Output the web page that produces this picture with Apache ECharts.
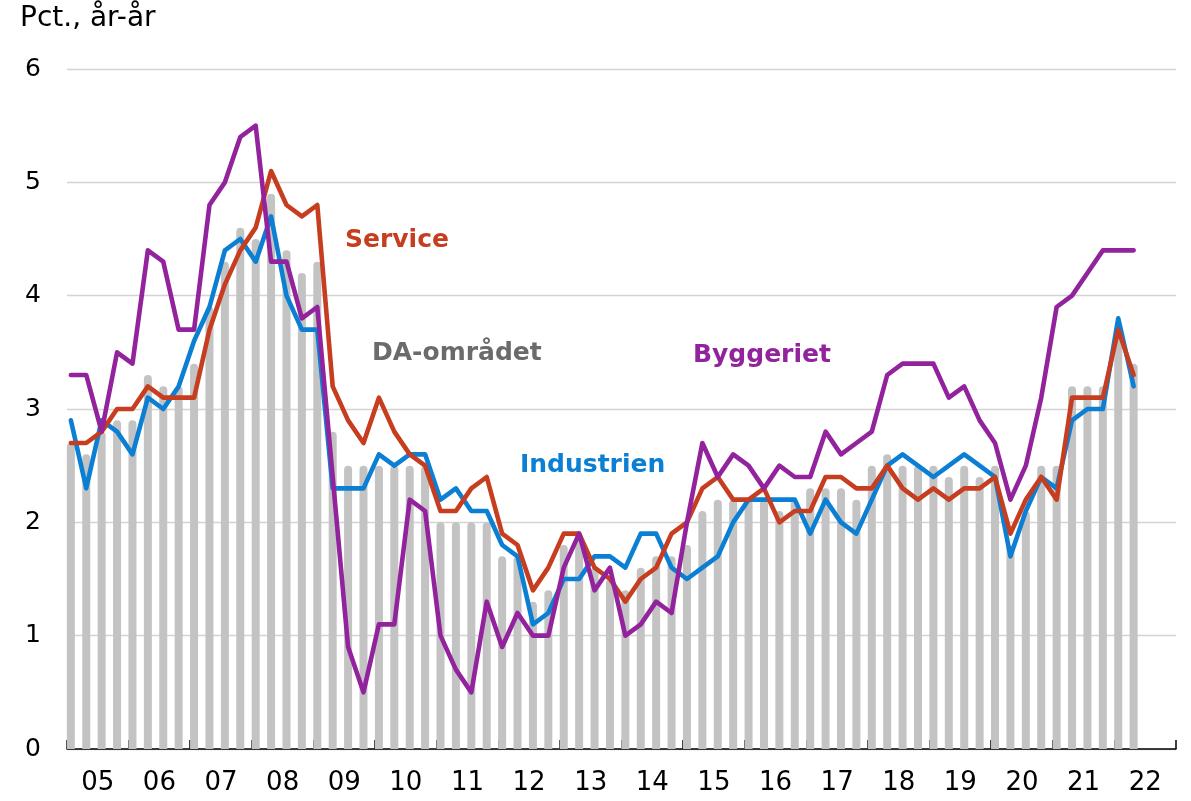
<!DOCTYPE html>
<html>
<head>
<meta charset="utf-8">
<script src="https://cdn.jsdelivr.net/npm/echarts@6/dist/echarts.min.js"></script>
<style>
html,body{margin:0;padding:0;background:#fff;}
#chart{width:1191px;height:801px;}
</style>
</head>
<body>
<div id="chart"></div>
<script>
// Year tick labels (x axis), one per year 2005-2022
const years = ['05','06','07','08','09','10','11','12','13','14','15','16','17','18','19','20','21','22'];
// Quarterly observations 2005K1 .. 2022K2 (70 quarters)
const quarters = [];
for (let y = 2005; y <= 2022; y++) for (let q = 1; q <= 4; q++) quarters.push(y + 'K' + q);
quarters.length = 70;

const daOmraadet = [
  2.7, 2.6, 2.8, 2.9, 2.9, 3.3, 3.2, 3.2, 3.4, 3.9,
  4.3, 4.6, 4.5, 4.9, 4.4, 4.2, 4.3, 2.8, 2.5, 2.5,
  2.5, 2.5, 2.5, 2.5, 2.0, 2.0, 2.0, 2.0, 1.7, 1.7,
  1.3, 1.4, 1.8, 1.9, 1.6, 1.5, 1.4, 1.6, 1.7, 1.7,
  1.8, 2.1, 2.2, 2.2, 2.2, 2.2, 2.1, 2.2, 2.3, 2.3,
  2.3, 2.2, 2.5, 2.6, 2.5, 2.5, 2.5, 2.4, 2.5, 2.4,
  2.5, 1.8, 2.1, 2.5, 2.5, 3.2, 3.2, 3.2, 3.7, 3.4
];
const industrien = [
  2.9, 2.3, 2.9, 2.8, 2.6, 3.1, 3.0, 3.2, 3.6, 3.9,
  4.4, 4.5, 4.3, 4.7, 4.0, 3.7, 3.7, 2.3, 2.3, 2.3,
  2.6, 2.5, 2.6, 2.6, 2.2, 2.3, 2.1, 2.1, 1.8, 1.7,
  1.1, 1.2, 1.5, 1.5, 1.7, 1.7, 1.6, 1.9, 1.9, 1.6,
  1.5, 1.6, 1.7, 2.0, 2.2, 2.2, 2.2, 2.2, 1.9, 2.2,
  2.0, 1.9, 2.2, 2.5, 2.6, 2.5, 2.4, 2.5, 2.6, 2.5,
  2.4, 1.7, 2.1, 2.4, 2.3, 2.9, 3.0, 3.0, 3.8, 3.2
];
const service = [
  2.7, 2.7, 2.8, 3.0, 3.0, 3.2, 3.1, 3.1, 3.1, 3.7,
  4.1, 4.4, 4.6, 5.1, 4.8, 4.7, 4.8, 3.2, 2.9, 2.7,
  3.1, 2.8, 2.6, 2.5, 2.1, 2.1, 2.3, 2.4, 1.9, 1.8,
  1.4, 1.6, 1.9, 1.9, 1.6, 1.5, 1.3, 1.5, 1.6, 1.9,
  2.0, 2.3, 2.4, 2.2, 2.2, 2.3, 2.0, 2.1, 2.1, 2.4,
  2.4, 2.3, 2.3, 2.5, 2.3, 2.2, 2.3, 2.2, 2.3, 2.3,
  2.4, 1.9, 2.2, 2.4, 2.2, 3.1, 3.1, 3.1, 3.7, 3.3
];
const byggeriet = [
  3.3, 3.3, 2.8, 3.5, 3.4, 4.4, 4.3, 3.7, 3.7, 4.8,
  5.0, 5.4, 5.5, 4.3, 4.3, 3.8, 3.9, 2.4, 0.9, 0.5,
  1.1, 1.1, 2.2, 2.1, 1.0, 0.7, 0.5, 1.3, 0.9, 1.2,
  1.0, 1.0, 1.6, 1.9, 1.4, 1.6, 1.0, 1.1, 1.3, 1.2,
  2.0, 2.7, 2.4, 2.6, 2.5, 2.3, 2.5, 2.4, 2.4, 2.8,
  2.6, 2.7, 2.8, 3.3, 3.4, 3.4, 3.4, 3.1, 3.2, 2.9,
  2.7, 2.2, 2.5, 3.1, 3.9, 4.0, 4.2, 4.4, 4.4, 4.4
];
const yTicks = [0, 1, 2, 3, 4, 5, 6];

const FONT = '"DejaVu Sans", "Noto Sans", sans-serif';
const C_BAR = '#C3C3C3', C_IND = '#0A7FD3', C_SER = '#C63D1F', C_BYG = '#92239C', C_DA = '#6B6B6B';

// position of a quarter on the hidden quarterly value axis (quarters from start of 2005)
const qPos = i => i + 0.25;
const toPts = arr => arr.map((v, i) => [qPos(i), v]);

const chart = echarts.init(document.getElementById('chart'));
chart.setOption({
  animation: false,
  backgroundColor: '#fff',
  title: {
    text: 'Pct., år-år', left: 20, top: 5, padding: 0,
    textStyle: { fontFamily: FONT, fontSize: 28, fontWeight: 'normal', color: '#000' }
  },
  grid: { left: 67, right: 15, top: 69, bottom: 52, containLabel: false },
  xAxis: [
    {
      type: 'category', data: years, boundaryGap: true, position: 'bottom',
      axisLine: { show: true, lineStyle: { color: '#000', width: 1.5 } },
      axisTick: { show: true, inside: true, length: 9, lineStyle: { color: '#000', width: 1.5 } },
      axisLabel: { fontFamily: FONT, fontSize: 26, color: '#000', margin: 21 },
      splitLine: { show: false }
    },
    {
      type: 'value', min: 0, max: years.length * 4, show: false,
      splitLine: { show: false }
    }
  ],
  yAxis: {
    type: 'value', min: yTicks[0], max: yTicks[yTicks.length - 1], interval: 1,
    axisLine: { show: false }, axisTick: { show: false },
    axisLabel: { fontFamily: FONT, fontSize: 25, color: '#000', margin: 26 },
    splitLine: { show: true, lineStyle: { color: '#D3D3D3', width: 1.3 } }
  },
  series: [
    {
      name: 'DA-området', type: 'bar', xAxisIndex: 1, data: toPts(daOmraadet),
      barWidth: 8, itemStyle: { color: C_BAR, borderRadius: [4, 4, 0, 0] }, z: 1
    },
    {
      name: 'Industrien', type: 'line', xAxisIndex: 1, data: toPts(industrien),
      showSymbol: false, lineStyle: { color: C_IND, width: 4.6, join: 'round', cap: 'round' }, z: 3
    },
    {
      name: 'Service', type: 'line', xAxisIndex: 1, data: toPts(service),
      showSymbol: false, lineStyle: { color: C_SER, width: 4.6, join: 'round', cap: 'round' }, z: 4
    },
    {
      name: 'Byggeriet', type: 'line', xAxisIndex: 1, data: toPts(byggeriet),
      showSymbol: false, lineStyle: { color: C_BYG, width: 4.6, join: 'round', cap: 'round' }, z: 5
    }
  ],
  graphic: [
    { type: 'text', left: 345, top: 228, style: { text: 'Service', fill: C_SER, fontFamily: FONT, fontSize: 25, fontWeight: 'bold' } },
    { type: 'text', left: 372, top: 341, style: { text: 'DA-området', fill: C_DA, fontFamily: FONT, fontSize: 25, fontWeight: 'bold' } },
    { type: 'text', left: 693, top: 343, style: { text: 'Byggeriet', fill: C_BYG, fontFamily: FONT, fontSize: 25, fontWeight: 'bold' } },
    { type: 'text', left: 520, top: 453, style: { text: 'Industrien', fill: C_IND, fontFamily: FONT, fontSize: 25, fontWeight: 'bold' } }
  ]
});
</script>
</body>
</html>
